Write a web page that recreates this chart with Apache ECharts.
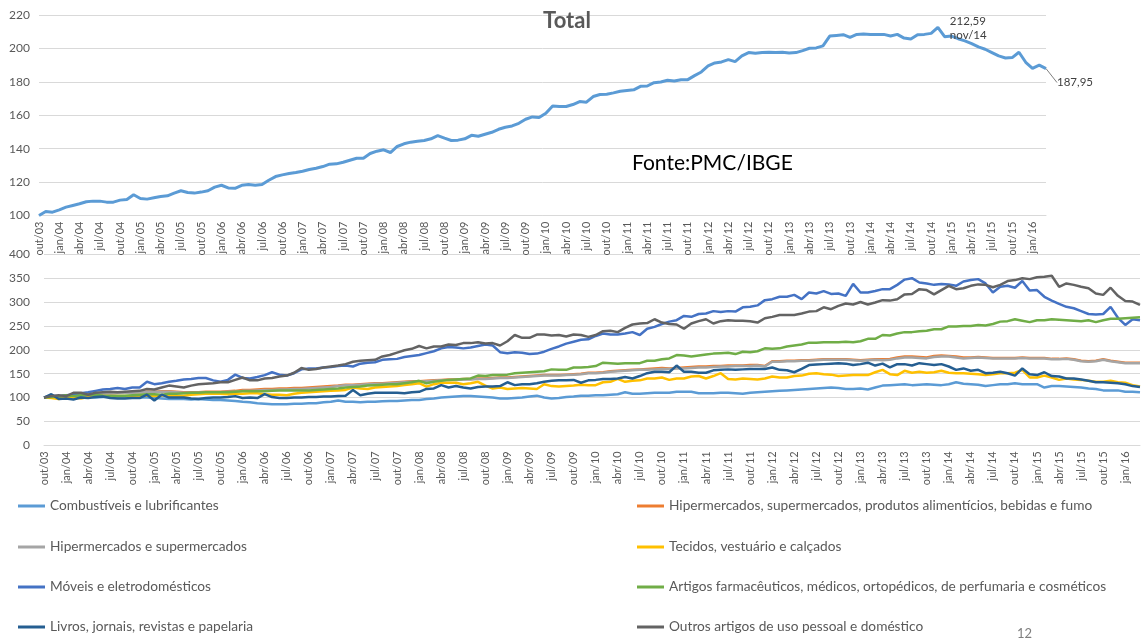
<!DOCTYPE html>
<html>
<head>
<meta charset="utf-8">
<title>Total</title>
<script src="https://cdn.jsdelivr.net/npm/echarts@6/dist/echarts.min.js"></script>
<style>
  html, body { margin: 0; padding: 0; background: #fff; }
  #chart { width: 1141px; height: 641px; }
</style>
</head>
<body>
<div id="chart"></div>
<script>
// meses de out/03 a mar/16
var meses = ['jan', 'fev', 'mar', 'abr', 'mai', 'jun', 'jul', 'ago', 'set', 'out', 'nov', 'dez'];
var categorias = [];
for (var k = 0; k < 150; k++) {
  var m = (9 + k) % 12;
  var a = 3 + Math.floor((9 + k) / 12);
  categorias.push(meses[m] + '/' + String(a).padStart(2, '0'));
}

var total = [
  100, 102.4, 102, 103.4, 105, 106, 107, 108.2, 108.6, 108.6,
  108, 108, 109.2, 109.6, 112.4, 110.2, 109.8, 110.6, 111.4, 111.8,
  113.4, 114.8, 113.8, 113.4, 114, 114.8, 117, 118.1, 116.5, 116.3,
  118.1, 118.5, 118.1, 118.5, 121.1, 123.3, 124.3, 125.1, 125.7, 126.5,
  127.5, 128.3, 129.3, 130.7, 130.9, 131.9, 133.1, 134.3, 134.3, 137.1,
  138.5, 139.3, 137.7, 141.3, 142.9, 143.9, 144.5, 144.9, 145.9, 147.8,
  146.3, 144.9, 145.1, 145.9, 148, 147.4, 148.6, 149.8, 151.6, 152.8,
  153.6, 155.2, 157.6, 159, 158.6, 161.2, 165.6, 165.2, 165.2, 166.4,
  168.2, 167.8, 171.2, 172.4, 172.6, 173.4, 174.4, 174.8, 175.2, 177.3,
  177.5, 179.5, 179.9, 180.9, 180.5, 181.3, 181.3, 183.7, 185.9, 189.5,
  191.3, 191.9, 193.3, 192.1, 195.5, 197.5, 197.1, 197.5, 197.7, 197.5,
  197.7, 197.3, 197.5, 198.7, 200.1, 200.3, 201.5, 207.4, 207.8, 208.2,
  206.6, 208.4, 208.6, 208.4, 208.4, 208.4, 207.4, 208.4, 206.2, 205.6,
  208.2, 208.4, 209, 212.59, 207, 207.4, 205.8, 204.5, 202.9, 200.9,
  199.5, 197.5, 195.5, 194.3, 194.5, 197.7, 191.7, 188.1, 190, 187.95
];

var combustiveis = [
  100, 102, 101, 100, 101, 102, 101, 100, 101, 101,
  100, 100, 101, 100, 100, 99, 98, 97, 97, 97,
  96, 97, 96, 95, 95, 94, 93, 91, 90, 88,
  87, 86, 86, 86, 87, 87, 88, 88, 90, 91,
  94, 91, 91, 90, 91, 91, 92, 93, 93, 94,
  95, 95, 97, 98, 100, 101, 102, 103, 103, 102,
  101, 100, 98, 98, 99, 100, 102, 104, 100, 98,
  99, 101, 102, 104, 104, 105, 105, 106, 107, 111,
  108, 108, 109, 110, 110, 110, 112, 112, 112, 109,
  109, 109, 110, 110, 109, 108, 110, 111, 112, 113,
  114, 115, 116, 117, 118, 119, 120, 121, 120, 118,
  118, 119, 117, 121, 125, 126, 127, 128, 126, 127,
  128, 127, 126, 128, 132, 129, 128, 127, 124, 126,
  128, 128, 130, 128, 128, 128, 121, 124, 124, 123,
  122, 121, 119, 118, 115, 115, 115, 112, 112, 111
];

var hiperAlimentos = [
  100, 101, 102, 104, 105, 106, 107, 107, 108, 109,
  110, 110, 111, 111, 112, 112, 113, 113, 112, 111,
  111, 111, 112, 112, 112, 113, 114, 116, 116, 117,
  118, 118, 119, 119, 120, 120, 121, 122, 123, 124,
  125, 127, 127, 128, 129, 130, 130, 131, 132, 133,
  134, 134, 135, 136, 137, 138, 138, 139, 139, 140,
  140, 141, 142, 142, 143, 144, 145, 146, 147, 147,
  147, 148, 149, 150, 152, 152, 153, 155, 156, 157,
  158, 159, 160, 161, 162, 161, 162, 163, 164, 165,
  165, 166, 166, 167, 167, 167, 168, 168, 166, 176,
  176, 177, 177, 178, 178, 179, 180, 180, 180, 180,
  179, 178, 179, 180, 180, 181, 184, 186, 186, 185,
  184, 187, 188, 187, 186, 184, 184, 185, 184, 183,
  183, 183, 183, 184, 183, 183, 183, 181, 181, 182,
  180, 177, 176, 177, 180, 177, 175, 173, 173, 173
];

var hiperSuper = [
  100, 101, 102, 104, 105, 106, 106, 107, 107, 108,
  109, 110, 110, 111, 111, 112, 112, 112, 111, 110,
  110, 110, 111, 111, 111, 112, 112, 114, 114, 115,
  116, 116, 117, 117, 118, 118, 119, 120, 121, 122,
  124, 126, 126, 127, 128, 129, 129, 130, 131, 132,
  133, 133, 134, 135, 136, 137, 137, 138, 138, 139,
  139, 140, 141, 141, 142, 143, 144, 145, 146, 146,
  146, 147, 148, 149, 151, 151, 152, 154, 155, 156,
  157, 158, 158, 159, 160, 160, 161, 161, 162, 163,
  163, 164, 165, 165, 166, 166, 166, 167, 165, 175,
  175, 176, 176, 177, 177, 178, 179, 179, 179, 179,
  178, 177, 178, 179, 178, 179, 182, 184, 184, 183,
  182, 185, 186, 186, 184, 182, 183, 184, 183, 182,
  182, 182, 182, 183, 182, 182, 182, 180, 180, 181,
  179, 176, 175, 176, 179, 176, 174, 172, 172, 172
];

var tecidos = [
  100, 99, 97, 100, 100, 98, 101, 103, 103, 103,
  103, 103, 103, 104, 104, 103, 105, 104, 104, 104,
  106, 107, 108, 108, 108, 107, 108, 108, 109, 109,
  107, 106, 106, 105, 108, 110, 111, 112, 113, 114,
  115, 116, 121, 119, 118, 121, 122, 123, 124, 126,
  128, 130, 123, 128, 131, 131, 131, 128, 130, 133,
  125, 119, 121, 118, 119, 120, 119, 118, 128, 124,
  123, 124, 125, 127, 126, 126, 132, 133, 139, 133,
  135, 136, 140, 140, 142, 137, 140, 140, 144, 145,
  140, 145, 151, 139, 138, 140, 139, 138, 140, 144,
  142, 142, 145, 146, 150, 151, 149, 148, 145, 146,
  147, 147, 147, 153, 158, 149, 147, 156, 152, 154,
  152, 153, 156, 152, 151, 151, 150, 149, 147, 149,
  151, 151, 152, 158, 142, 142, 146, 142, 137, 140,
  138, 137, 135, 133, 133, 135, 132, 131, 126, 123
];

var moveis = [
  100, 104, 103, 105, 106, 109, 111, 114, 117, 118,
  120, 118, 121, 121, 133, 128, 130, 133, 135, 138,
  139, 141, 141, 136, 133, 137, 148, 141, 140, 143,
  147, 153, 148, 146, 151, 159, 161, 161, 163, 164,
  166, 167, 165, 171, 173, 174, 179, 180, 181, 185,
  187, 189, 193, 197, 203, 206, 205, 203, 205, 208,
  211, 209, 195, 193, 195, 194, 191, 192, 196, 202,
  207, 213, 217, 221, 222, 229, 234, 232, 232, 234,
  237, 231, 244, 248, 254, 259, 262, 271, 269, 275,
  276, 281, 279, 281, 280, 289, 290, 293, 304, 306,
  311, 311, 315, 306, 320, 318, 323, 317, 318, 313,
  338, 320, 320, 323, 327, 327, 336, 347, 350, 341,
  339, 336, 338, 337, 334, 343, 346, 348, 339, 320,
  332, 334, 330, 344, 324, 325, 311, 303, 296, 290,
  287, 281, 275, 274, 275, 290, 267, 252, 264, 262
];

var farmaceuticos = [
  100, 101, 102, 105, 103, 105, 106, 106, 104, 103,
  103, 104, 105, 106, 107, 107, 106, 108, 108, 109,
  110, 110, 111, 111, 111, 111, 112, 113, 113, 113,
  113, 114, 115, 115, 115, 115, 115, 116, 117, 118,
  119, 121, 122, 123, 125, 126, 127, 128, 128, 130,
  132, 135, 130, 133, 135, 137, 138, 139, 140, 146,
  145, 147, 147, 148, 151, 152, 153, 154, 155, 159,
  158, 158, 163, 163, 164, 166, 173, 172, 171, 172,
  172, 172, 177, 177, 180, 182, 189, 188, 186, 188,
  190, 192, 193, 194, 191, 196, 195, 197, 203, 202,
  203, 207, 209, 211, 215, 215, 216, 216, 216, 217,
  216, 218, 223, 223, 231, 230, 234, 237, 237, 239,
  240, 243, 243, 249, 249, 250, 250, 252, 251, 254,
  259, 260, 264, 261, 258, 262, 262, 264, 263, 262,
  261, 260, 262, 258, 262, 265, 265, 266, 267, 268
];

var livros = [
  100, 107, 97, 98, 96, 100, 99, 101, 102, 99,
  98, 98, 99, 99, 106, 94, 106, 100, 100, 100,
  98, 97, 99, 100, 100, 101, 103, 99, 100, 99,
  107, 101, 99, 99, 100, 100, 101, 101, 102, 102,
  103, 104, 116, 105, 108, 110, 110, 110, 110, 109,
  111, 112, 118, 119, 126, 121, 124, 121, 119, 122,
  123, 123, 124, 132, 126, 128, 128, 130, 133, 135,
  136, 136, 137, 131, 136, 137, 139, 139, 140, 143,
  140, 145, 151, 154, 154, 153, 167, 154, 154, 152,
  152, 157, 158, 159, 158, 159, 160, 160, 160, 163,
  158, 157, 153, 160, 168, 169, 170, 171, 172, 171,
  168, 170, 173, 167, 171, 163, 170, 170, 167, 172,
  170, 168, 170, 165, 158, 161, 156, 158, 151, 152,
  154, 151, 146, 161, 149, 147, 153, 145, 144, 140,
  140, 138, 135, 132, 132, 131, 130, 128, 124, 122
];

var outros = [
  100, 103, 105, 103, 110, 110, 106, 110, 111, 112,
  111, 112, 113, 114, 118, 117, 121, 125, 123, 121,
  125, 128, 129, 130, 132, 132, 137, 142, 136, 136,
  140, 141, 144, 146, 152, 162, 158, 160, 163, 165,
  167, 170, 175, 177, 178, 179, 186, 189, 194, 199,
  202, 208, 203, 207, 207, 211, 210, 214, 214, 216,
  213, 214, 209, 218, 231, 225, 225, 232, 232, 230,
  231, 228, 232, 231, 227, 231, 239, 240, 237, 246,
  253, 255, 256, 264, 257, 254, 253, 244, 255, 260,
  264, 255, 260, 262, 261, 261, 260, 257, 266, 269,
  273, 273, 273, 276, 280, 281, 289, 285, 292, 297,
  295, 300, 295, 299, 304, 303, 306, 316, 317, 327,
  325, 316, 325, 334, 327, 329, 334, 337, 336, 331,
  336, 344, 346, 350, 348, 352, 353, 355, 332, 339,
  336, 332, 329, 318, 315, 330, 313, 302, 301, 294
];

// legenda: coluna esquerda e direita
var legendaEsq = ['Combustíveis e lubrificantes', 'Hipermercados e supermercados', 'Móveis e eletrodomésticos', 'Livros, jornais, revistas e papelaria'];
var legendaDir = ['Hipermercados, supermercados, produtos alimentícios, bebidas e fumo', 'Tecidos, vestuário e calçados', 'Artigos farmacêuticos, médicos, ortopédicos, de perfumaria e cosméticos', 'Outros artigos de uso pessoal e doméstico'];

var fonte = 'Lato, "Open Sans", sans-serif';
var cinzaTexto = '#595959';
var cinzaGrade = '#d9d9d9';

// rotulos so no pico (nov/14) e no ultimo mes
var idxPico = 133;
var idxFim = total.length - 1;
var totalDados = total.map(function (v, i) {
  if (i === idxPico) {
    return { value: v, label: { show: true, formatter: '212,59\nnov/14' } };
  }
  if (i === idxFim) {
    return { value: v, label: { show: true, formatter: '187,95' }, labelLine: { show: true } };
  }
  return v;
});

function eixoX(gridIndex) {
  return {
    type: 'category',
    gridIndex: gridIndex,
    data: categorias,
    boundaryGap: false,
    axisLine: { lineStyle: { color: cinzaGrade } },
    axisTick: { show: false },
    axisLabel: {
      interval: 2,
      rotate: 90,
      margin: 6,
      color: cinzaTexto,
      fontFamily: fonte,
      fontSize: 11
    }
  };
}

function eixoY(gridIndex, min, max, step, margin) {
  return {
    type: 'value',
    gridIndex: gridIndex,
    min: min,
    max: max,
    interval: step,
    axisLine: { show: false },
    axisTick: { show: false },
    axisLabel: { color: cinzaTexto, fontFamily: fonte, fontSize: 12, margin: margin },
    splitLine: { lineStyle: { color: cinzaGrade, width: 1 } }
  };
}

function serie(nome, dados, cor) {
  return {
    name: nome,
    type: 'line',
    xAxisIndex: 1,
    yAxisIndex: 1,
    data: dados,
    showSymbol: false,
    symbol: 'none',
    lineStyle: { color: cor, width: 2.5 },
    itemStyle: { color: cor }
  };
}

function legenda(nome, left, top) {
  return {
    left: left,
    top: top,
    padding: 0,
    icon: 'rect',
    itemWidth: 27,
    itemHeight: 3,
    selectedMode: false,
    textStyle: { color: cinzaTexto, fontFamily: fonte, fontSize: 13.7 },
    data: [nome]
  };
}

var linhasLegenda = [499, 540, 580, 620];
var legendas = [];
legendaEsq.forEach(function (n, i) { legendas.push(legenda(n, 18, linhasLegenda[i])); });
legendaDir.forEach(function (n, i) { legendas.push(legenda(n, 637, linhasLegenda[i])); });

var option = {
  animation: false,
  backgroundColor: '#ffffff',
  title: {
    text: 'Total',
    left: 562,
    textAlign: 'center',
    top: 5,
    textStyle: { color: cinzaTexto, fontFamily: fonte, fontSize: 22, fontWeight: 'bold' }
  },
  graphic: [
    { type: 'text', left: 632, top: 153, style: { text: 'Fonte:PMC/IBGE', fill: '#000', font: '21px ' + fonte } },
    { type: 'text', left: 1017, top: 627, style: { text: '12', fill: '#7f7f7f', font: '13px ' + fonte } }
  ],
  legend: legendas,
  grid: [
    { left: 39, right: 95, top: 15, height: 200.5 },
    { left: 44, right: 1, top: 254.3, height: 191 }
  ],
  xAxis: [eixoX(0), eixoX(1)],
  yAxis: [eixoY(0, 100, 220, 20, 9), eixoY(1, 0, 400, 50, 14)],
  series: [
    {
      name: 'Total',
      type: 'line',
      xAxisIndex: 0,
      yAxisIndex: 0,
      data: totalDados,
      symbol: 'circle',
      symbolSize: 0.01,
      showSymbol: true,
      showAllSymbol: true,
      lineStyle: { color: '#5B9BD5', width: 3 },
      itemStyle: { color: '#5B9BD5' },
      label: {
        show: false,
        color: '#404040',
        fontFamily: fonte,
        fontSize: 11.5,
        lineHeight: 14,
        position: 'right'
      },
      labelLayout: function (p) {
        if (p.dataIndex === idxPico) return { dx: 7, dy: 1 };
        if (p.dataIndex === idxFim) return { dx: 6, dy: 14 };
        return {};
      },
      labelLine: { show: false, lineStyle: { color: '#7f7f7f', width: 1 } }
    },
    serie(legendaEsq[0], combustiveis, '#5B9BD5'),
    serie(legendaDir[0], hiperAlimentos, '#ED7D31'),
    serie(legendaEsq[1], hiperSuper, '#A5A5A5'),
    serie(legendaDir[1], tecidos, '#FFC000'),
    serie(legendaEsq[2], moveis, '#4472C4'),
    serie(legendaDir[2], farmaceuticos, '#70AD47'),
    serie(legendaEsq[3], livros, '#255E91'),
    serie(legendaDir[3], outros, '#636363')
  ]
};

var chart = echarts.init(document.getElementById('chart'));
chart.setOption(option);
</script>
</body>
</html>
